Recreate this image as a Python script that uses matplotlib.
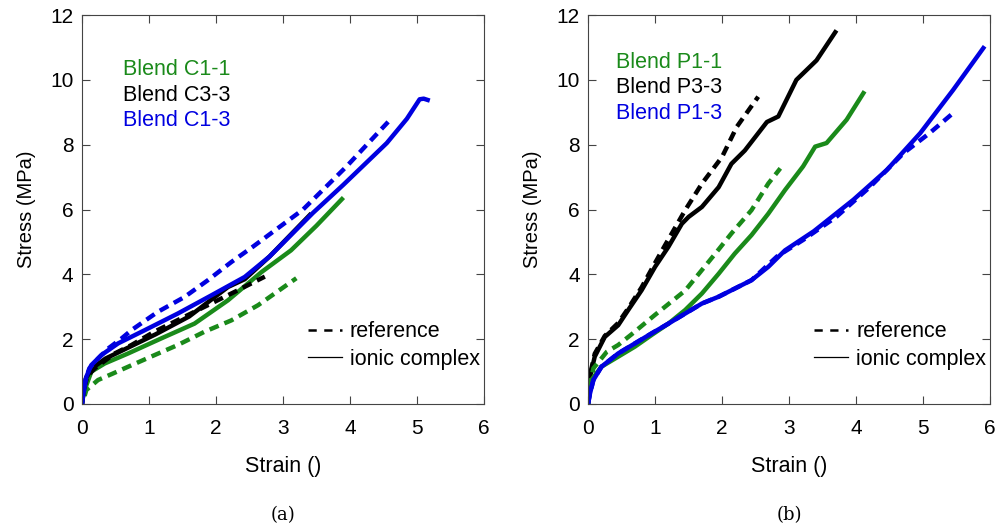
import matplotlib
matplotlib.use("Agg")
import matplotlib.pyplot as plt
from matplotlib.lines import Line2D

# ---- Data: panel (a) ----
a_c13_ion_x = [0, 0.015, 0.065, 0.14, 0.29, 0.54, 0.94, 1.43, 1.93, 2.43, 2.8, 3.45, 3.9, 4.55, 4.85, 5.04, 5.1, 5.16]
a_c13_ion_y = [0, 0.23, 0.84, 1.2, 1.51, 1.87, 2.28, 2.79, 3.35, 3.92, 4.55, 5.9, 6.76, 8.05, 8.8, 9.4, 9.42, 9.38]
a_c13_ref_x = [0, 0.03, 0.11, 0.24, 0.39, 0.59, 0.74, 1.13, 1.53, 1.88, 2.23, 2.55, 3.3, 3.95, 4.6]
a_c13_ref_y = [0, 0.6, 1.1, 1.4, 1.71, 2.02, 2.28, 2.84, 3.3, 3.82, 4.38, 4.85, 6.0, 7.33, 8.77]
a_c33_ion_x = [0, 0.015, 0.06, 0.15, 0.35, 0.7, 1.1, 1.6, 2.18, 2.43, 2.8, 3.4]
a_c33_ion_y = [0, 0.25, 0.8, 1.1, 1.4, 1.75, 2.15, 2.7, 3.61, 3.85, 4.55, 5.83]
a_c33_ref_x = [0, 0.02, 0.08, 0.19, 0.49, 0.74, 1.08, 1.48, 1.88, 2.28, 2.73]
a_c33_ref_y = [0, 0.4, 0.85, 1.1, 1.56, 1.82, 2.23, 2.64, 3.05, 3.46, 3.93]
a_c11_ion_x = [0, 0.015, 0.04, 0.14, 0.34, 0.69, 1.18, 1.68, 2.18, 2.68, 3.12, 3.5, 3.88]
a_c11_ion_y = [0, 0.2, 0.43, 1.0, 1.25, 1.56, 2.02, 2.48, 3.2, 4.07, 4.74, 5.5, 6.32]
a_c11_ref_x = [0.04, 0.065, 0.24, 0.44, 0.69, 1.03, 1.43, 1.83, 2.23, 2.63, 3.2]
a_c11_ref_y = [0.25, 0.43, 0.74, 0.92, 1.15, 1.46, 1.82, 2.23, 2.58, 3.05, 3.88]

# ---- Data: panel (b) ----
b_p33_ion_x = [0, 0.03, 0.1, 0.25, 0.45, 0.6, 0.8, 1.0, 1.2, 1.4, 1.5, 1.7, 1.95, 2.14, 2.34, 2.67, 2.84, 3.11, 3.41, 3.69]
b_p33_ion_y = [0, 0.84, 1.46, 2.07, 2.43, 2.9, 3.51, 4.23, 4.85, 5.56, 5.77, 6.08, 6.69, 7.41, 7.82, 8.7, 8.87, 10.0, 10.6, 11.47]
b_p33_ref_x = [0, 0.03, 0.1, 0.25, 0.45, 0.6, 0.8, 1.0, 1.15, 1.45, 1.7, 2.0, 2.22, 2.54]
b_p33_ref_y = [0, 0.9, 1.55, 2.1, 2.5, 2.95, 3.6, 4.35, 4.9, 5.98, 6.8, 7.62, 8.55, 9.48]
b_p11_ion_x = [0, 0.02, 0.05, 0.2, 0.45, 0.7, 0.95, 1.2, 1.45, 1.7, 1.95, 2.19, 2.44, 2.69, 2.94, 3.21, 3.39, 3.56, 3.86, 4.11]
b_p11_ion_y = [0, 0.3, 0.74, 1.15, 1.46, 1.77, 2.13, 2.48, 2.9, 3.41, 4.02, 4.64, 5.21, 5.87, 6.6, 7.33, 7.94, 8.05, 8.77, 9.59]
b_p11_ref_x = [0, 0.02, 0.08, 0.28, 0.45, 0.65, 1.0, 1.45, 1.9, 2.14, 2.44, 2.69, 2.87]
b_p11_ref_y = [0, 0.5, 1.1, 1.61, 1.82, 2.15, 2.75, 3.5, 4.64, 5.26, 5.98, 6.8, 7.27]
b_p13_ion_x = [0, 0.03, 0.08, 0.2, 0.45, 0.7, 0.95, 1.2, 1.45, 1.7, 1.95, 2.19, 2.44, 2.69, 2.94, 3.37, 3.96, 4.46, 4.96, 5.45, 5.9]
b_p13_ion_y = [0, 0.33, 0.74, 1.15, 1.56, 1.87, 2.18, 2.48, 2.79, 3.1, 3.31, 3.56, 3.82, 4.23, 4.74, 5.33, 6.3, 7.22, 8.36, 9.69, 10.98]
b_p13_ref_x = [0, 0.03, 0.08, 0.2, 0.45, 0.7, 0.95, 1.2, 1.45, 1.7, 1.95, 2.19, 2.44, 2.82, 3.21, 3.71, 4.21, 4.71, 5.1, 5.48]
b_p13_ref_y = [0, 0.33, 0.74, 1.15, 1.56, 1.87, 2.18, 2.48, 2.79, 3.1, 3.31, 3.56, 3.82, 4.55, 5.06, 5.78, 6.7, 7.74, 8.36, 9.03]

labels_a = ["Blend C1-1", "Blend C3-3", "Blend C1-3"]
labels_b = ["Blend P1-1", "Blend P3-3", "Blend P1-3"]
colors = ["#1a8a1a", "#000000", "#0000e0"]
captions = ["(a)", "(b)"]
style_labels = ["reference", "ionic complex"]
xticks = [0, 1, 2, 3, 4, 5, 6]
yticks = [0, 2, 4, 6, 8, 10, 12]

plt.rcParams['font.family'] = ['Liberation Sans', 'DejaVu Sans']

fig = plt.figure(figsize=(9.97, 5.29), dpi=100)
axA = fig.add_axes([0.0822, 0.2363, 0.4032, 0.7353])
axB = fig.add_axes([0.5898, 0.2363, 0.4032, 0.7353])

LW = 3.2
DASH = (0, (2.2, 1.4))

# panel a (draw order: green, black, blue)
axA.plot(a_c11_ref_x, a_c11_ref_y, color=colors[0], lw=LW, linestyle=DASH)
axA.plot(a_c11_ion_x, a_c11_ion_y, color=colors[0], lw=LW)
axA.plot(a_c33_ref_x, a_c33_ref_y, color=colors[1], lw=LW, linestyle=DASH)
axA.plot(a_c33_ion_x, a_c33_ion_y, color=colors[1], lw=LW)
axA.plot(a_c13_ref_x, a_c13_ref_y, color=colors[2], lw=LW, linestyle=DASH)
axA.plot(a_c13_ion_x, a_c13_ion_y, color=colors[2], lw=LW)

# panel b
axB.plot(b_p33_ref_x, b_p33_ref_y, color=colors[1], lw=LW, linestyle=DASH)
axB.plot(b_p33_ion_x, b_p33_ion_y, color=colors[1], lw=LW)
axB.plot(b_p11_ref_x, b_p11_ref_y, color=colors[0], lw=LW, linestyle=DASH)
axB.plot(b_p11_ion_x, b_p11_ion_y, color=colors[0], lw=LW)
axB.plot(b_p13_ref_x, b_p13_ref_y, color=colors[2], lw=LW, linestyle=DASH)
axB.plot(b_p13_ion_x, b_p13_ion_y, color=colors[2], lw=LW)

for ax, labels, cap, xl, ytop in [(axA, labels_a, captions[0], 0.101, 0.859),
                                  (axB, labels_b, captions[1], 0.069, 0.879)]:
    ax.set_xlim(0, 6)
    ax.set_ylim(0, 12)
    ax.set_xticks(xticks)
    ax.set_yticks(yticks)
    ax.tick_params(direction='in', top=True, right=True, length=6, width=0.8,
                   labelsize=15, color='#444444')
    ax.tick_params(axis='x', pad=11)
    ax.tick_params(axis='y', pad=6)
    for s in ax.spines.values():
        s.set_linewidth(0.8)
        s.set_color('#444444')
    ax.set_xlabel("Strain ()", fontsize=15.5, labelpad=13)
    ax.set_ylabel("Stress (MPa)", fontsize=14.5, labelpad=10)
    for i, (lab, c) in enumerate(zip(labels, colors)):
        ax.text(xl, ytop - i * 0.0655, lab, color=c, fontsize=15.5,
                transform=ax.transAxes, va='center', ha='left')
    handles = [Line2D([], [], color='black', lw=1.8, linestyle=(0, (3.3, 3.0))),
               Line2D([], [], color='black', lw=0.9)]
    ax.legend(handles, style_labels, loc='lower right',
              bbox_to_anchor=(0.99, 0.088), frameon=False, fontsize=15.5,
              handlelength=1.6, handletextpad=0.35, labelspacing=0.3,
              borderaxespad=0.0, borderpad=0.0)
    ax.text(0.5, -0.285, cap, transform=ax.transAxes, ha='center', va='center',
            fontsize=13, family=['DejaVu Serif'])

fig.savefig("out.png", dpi=100)
